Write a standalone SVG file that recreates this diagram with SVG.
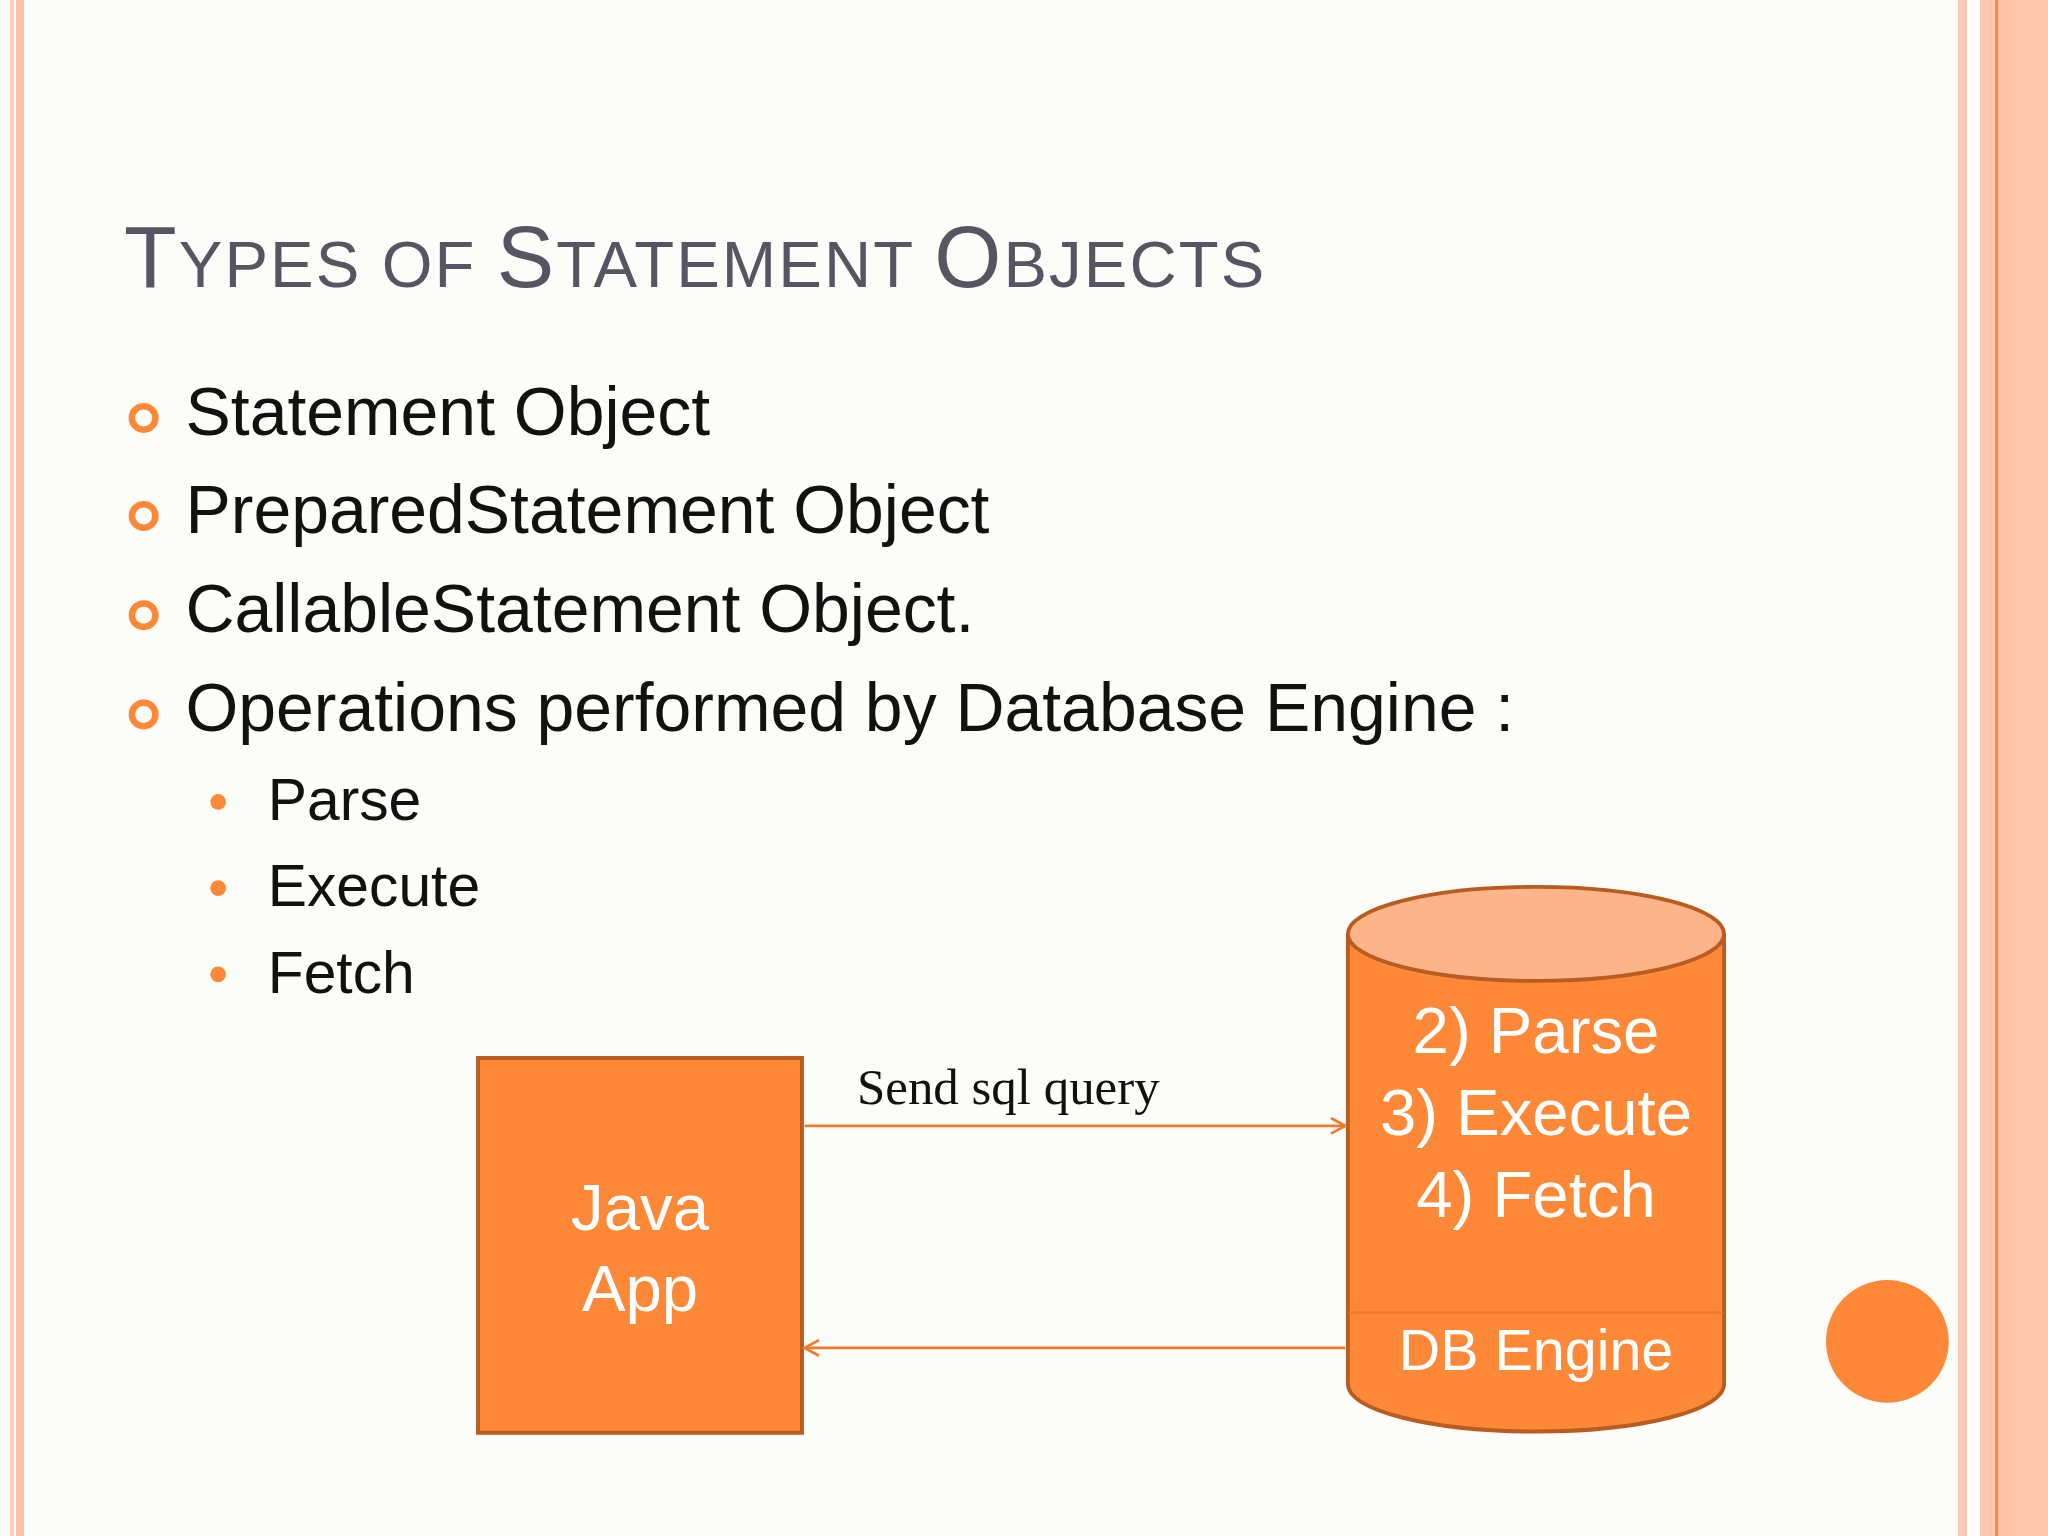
<svg xmlns="http://www.w3.org/2000/svg" width="2048" height="1536" viewBox="0 0 2048 1536">
<style>
.t{font-family:"Liberation Sans",Arial,sans-serif}
.b{font-size:52px;fill:#111}
.s{font-size:45px;fill:#111}
.w{fill:#fff;font-size:50px;text-anchor:middle}
.o{fill:#fd8837;stroke:#b85c20;stroke-width:3}
.c{stroke:#f07a2a;stroke-width:2;fill:none}
</style>
<defs><marker id="a" markerWidth="14" markerHeight="14" refX="12" refY="7" orient="auto" markerUnits="userSpaceOnUse"><path d="M1,1 L12,7 L1,13" fill="none" stroke="#f07a2a" stroke-width="2"/></marker></defs>
<rect width="2048" height="1536" fill="#fcfcf9"/>
<rect x="10" y="0" width="4" height="1536" fill="#fcd0c0"/>
<rect x="16" y="0" width="8" height="1536" fill="#fdbfa5"/>
<rect x="1958" y="0" width="9" height="1536" fill="#fcc8b8"/>
<rect x="1980" y="0" width="15" height="1536" fill="#fdc8b0"/>
<rect x="1995" y="0" width="3" height="1536" fill="#fd8837"/>
<rect x="1998" y="0" width="14" height="1536" fill="#ffc4a8"/>
<rect x="2012" y="0" width="36" height="1536" fill="#fec9af"/>
<g transform="scale(1.30612)">
<text class="t" x="95" y="220" fill="#565663" font-size="66" style="letter-spacing:1.6px">T<tspan font-size="50">YPES OF </tspan>S<tspan font-size="50">TATEMENT </tspan>O<tspan font-size="50">BJECTS</tspan></text>
<g fill="none" stroke="#fd8837" stroke-width="5">
<circle cx="110" cy="320" r="9"/><circle cx="110" cy="395" r="9"/><circle cx="110" cy="471" r="9"/><circle cx="110" cy="547" r="9"/></g>
<text class="t b" x="142" y="333">Statement Object</text>
<text class="t b" x="142" y="408">PreparedStatement Object</text>
<text class="t b" x="142" y="484">CallableStatement Object.</text>
<text class="t b" x="142" y="560">Operations performed by Database Engine :</text>
<g fill="#fd8837"><circle cx="167" cy="614" r="6"/><circle cx="167" cy="680" r="6"/><circle cx="167" cy="746" r="6"/></g>
<text class="t s" x="205" y="628">Parse</text>
<text class="t s" x="205" y="694">Execute</text>
<text class="t s" x="205" y="760">Fetch</text>
<g id="java">
<rect class="o" x="366" y="810" width="248" height="287"/>
<text class="t w" x="490" y="942">Java</text>
<text class="t w" x="490" y="1004">App</text>
</g>
<g id="db">
<path class="o" d="M1032,715 V1060 A144,36 0 0 0 1320,1060 V715"/>
<ellipse cx="1176" cy="715" rx="144" ry="36" fill="#fdb48a" stroke="#b85c20" stroke-width="3"/>
<line x1="1033" y1="1005" x2="1319" y2="1005" stroke="#f07a2a" stroke-width="2"/>
<text class="t w" x="1176" y="806">2) Parse</text>
<text class="t w" x="1176" y="869">3) Execute</text>
<text class="t w" x="1176" y="932">4) Fetch</text>
<text class="t w" x="1176" y="1049" style="font-size:44px">DB Engine</text>
</g>
<g id="connectors">
<line class="c" x1="616" y1="862" x2="1030" y2="862" marker-end="url(#a)"/>
<line class="c" x1="1030" y1="1032" x2="616" y2="1032" marker-end="url(#a)"/>
<text x="772" y="845" text-anchor="middle" font-family="Liberation Serif,serif" font-size="39" fill="#111">Send sql query</text>
</g>
<circle cx="1445" cy="1027" r="47" fill="#fd8837"/>
</g>
</svg>
